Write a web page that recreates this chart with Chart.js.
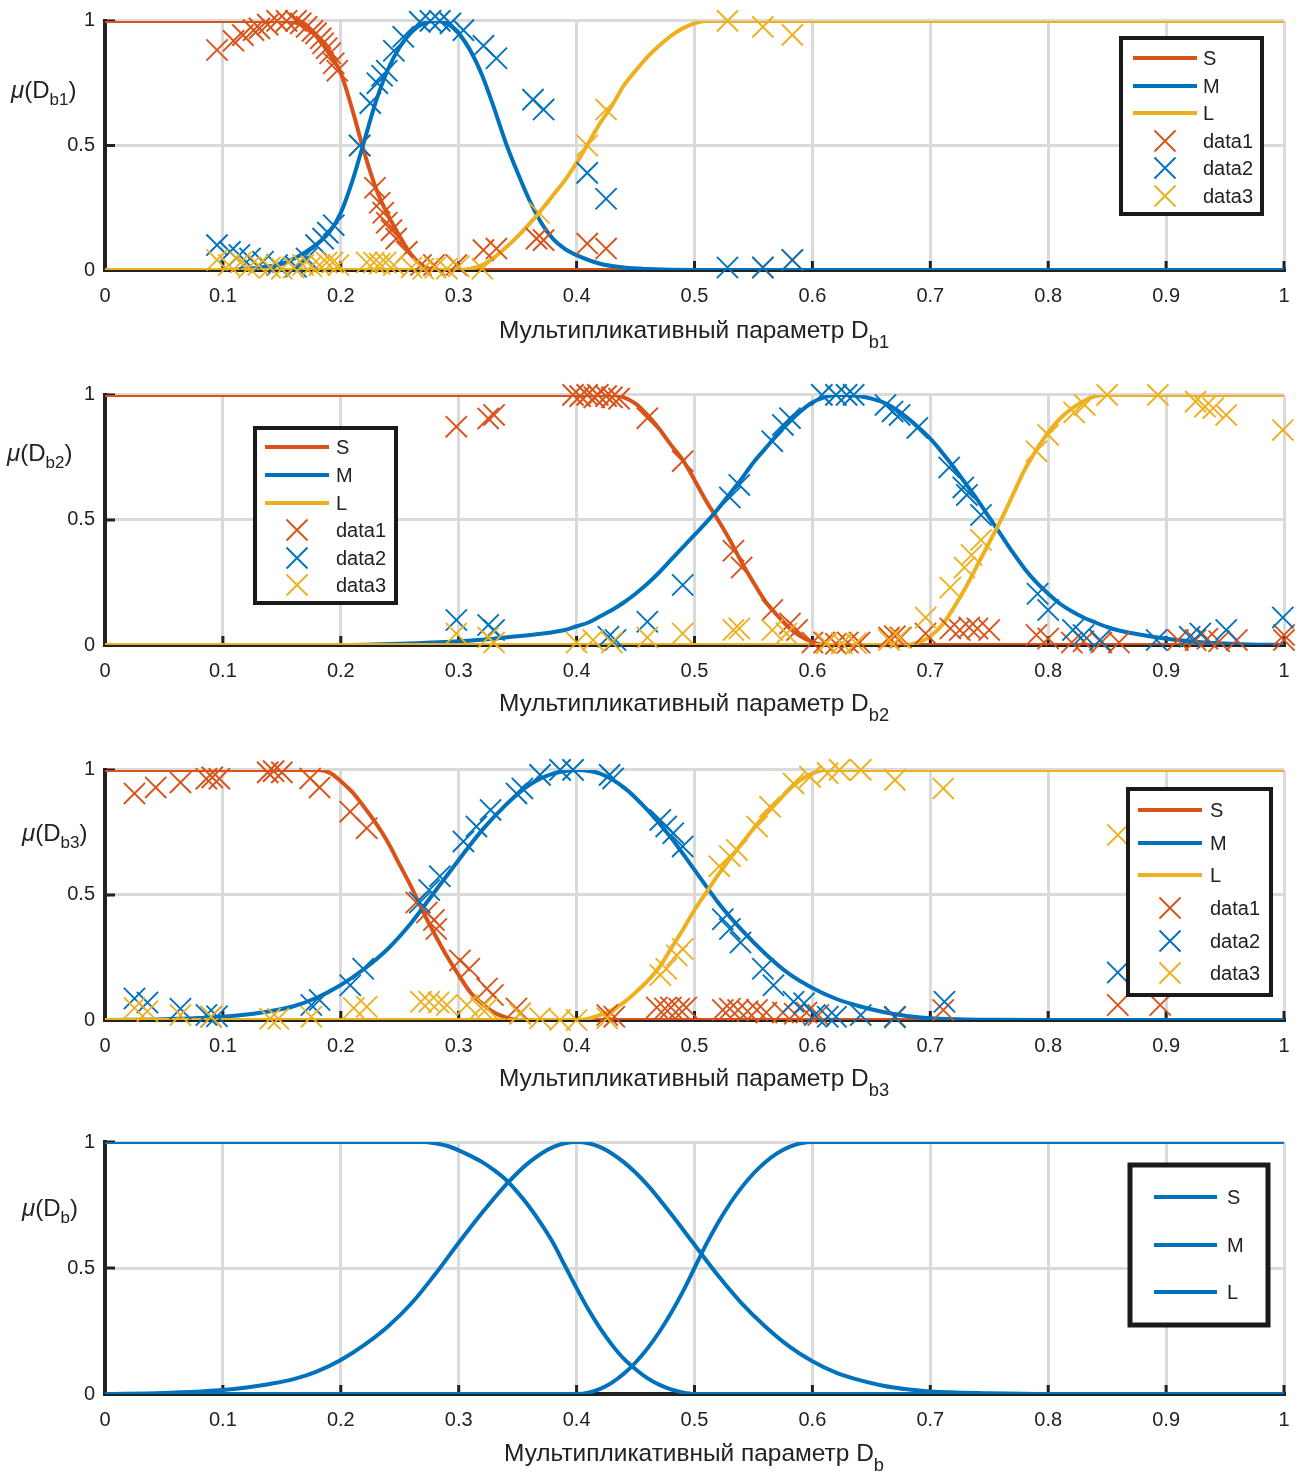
<!DOCTYPE html>
<html>
<head>
<meta charset="utf-8">
<script src="https://cdn.jsdelivr.net/npm/chart.js@4.4.1/dist/chart.umd.min.js"></script>
<style>
  body { margin: 0; background: #fff; width: 1306px; height: 1475px; position: relative; overflow: hidden; }
  canvas { position: absolute; left: 0; }
</style>
</head>
<body>
<canvas id="c1"></canvas>
<canvas id="c2"></canvas>
<canvas id="c3"></canvas>
<canvas id="c4"></canvas>
<script>
// tick labels and series names
const xTickLabels = ['0', '0.1', '0.2', '0.3', '0.4', '0.5', '0.6', '0.7', '0.8', '0.9', '1'];
const yTickLabels = ['0', '0.5', '1'];
const seriesNames = ['S', 'M', 'L', 'data1', 'data2', 'data3'];

// ---- D_b1 ----
const b1_S_x = [0, 0.15, 0.16, 0.17, 0.18, 0.19, 0.20, 0.21, 0.22, 0.23, 0.24, 0.25, 0.26, 0.27, 0.28, 1];
const b1_S_y = [1, 1, 0.995, 0.975, 0.935, 0.87, 0.79, 0.64, 0.47, 0.325, 0.22, 0.135, 0.06, 0.015, 0, 0];
const b1_M_x = [0, 0.10, 0.12, 0.14, 0.15, 0.16, 0.17, 0.18, 0.19, 0.20, 0.21, 0.22, 0.23, 0.24, 0.25, 0.26, 0.27, 0.28, 0.29, 0.30,
                0.31, 0.32, 0.33, 0.34, 0.35, 0.36, 0.37, 0.38, 0.39, 0.40, 0.42, 0.44, 0.46, 0.50, 1];
const b1_M_y = [0, 0, 0.004, 0.015, 0.025, 0.045, 0.072, 0.105, 0.15, 0.23, 0.36, 0.52, 0.68, 0.805, 0.895, 0.955, 0.99, 1, 0.99, 0.95,
                0.88, 0.78, 0.65, 0.51, 0.39, 0.28, 0.19, 0.125, 0.085, 0.06, 0.025, 0.01, 0.004, 0, 0];
const b1_L_x = [0, 0.30, 0.31, 0.32, 0.33, 0.34, 0.35, 0.36, 0.37, 0.38, 0.39, 0.40, 0.41, 0.42, 0.43, 0.44, 0.45, 0.46, 0.47, 0.48,
                0.49, 0.50, 0.51, 1];
const b1_L_y = [0, 0, 0.005, 0.02, 0.05, 0.09, 0.135, 0.185, 0.24, 0.30, 0.36, 0.43, 0.51, 0.59, 0.66, 0.74, 0.80, 0.855, 0.90, 0.94,
                0.97, 0.99, 1, 1];
const b1_d1_x = [0.095, 0.109, 0.117, 0.126, 0.131, 0.138, 0.146, 0.154, 0.162, 0.166, 0.171, 0.176, 0.179, 0.183, 0.185, 0.188, 0.191, 0.194, 0.197, 0.216,
                 0.229, 0.233, 0.236, 0.239, 0.243, 0.247, 0.256, 0.268, 0.279, 0.298, 0.321, 0.332, 0.366, 0.372, 0.409, 0.425, 0.558, 0.583];
const b1_d1_y = [0.883, 0.92, 0.943, 0.963, 0.97, 0.985, 1, 1, 1, 0.99, 0.976, 0.96, 0.95, 0.93, 0.91, 0.89, 0.87, 0.83, 0.80, 0.5,
                 0.33, 0.27, 0.23, 0.19, 0.16, 0.126, 0.073, 0.02, 0.02, 0.02, 0.08, 0.086, 0.126, 0.12, 0.106, 0.086, 0.01, 0.04];
const b1_d2_x = [0.095, 0.106, 0.114, 0.123, 0.134, 0.146, 0.162, 0.171, 0.179, 0.185, 0.189, 0.194, 0.216, 0.225, 0.231, 0.235, 0.239, 0.245, 0.253, 0.267,
                 0.276, 0.284, 0.293, 0.304, 0.321, 0.332, 0.363, 0.372, 0.409, 0.425, 0.528, 0.558, 0.583];
const b1_d2_y = [0.10, 0.073, 0.06, 0.046, 0.033, 0.02, 0.013, 0.046, 0.10, 0.126, 0.15, 0.18, 0.5, 0.67, 0.75, 0.78, 0.80, 0.88, 0.936, 0.996,
                 1, 1, 0.99, 0.963, 0.90, 0.85, 0.684, 0.644, 0.39, 0.286, 0.01, 0.01, 0.04];
const b1_d3_x = [0.095, 0.105, 0.115, 0.122, 0.13, 0.14, 0.15, 0.16, 0.168, 0.175, 0.182, 0.188, 0.193, 0.198, 0.222, 0.228, 0.233, 0.238, 0.245, 0.26,
                 0.27, 0.28, 0.29, 0.3, 0.32, 0.368, 0.409, 0.425, 0.528, 0.558, 0.583];
const b1_d3_y = [0.04, 0.02, 0.03, 0.01, 0.02, 0.01, 0.005, 0.01, 0.02, 0.015, 0.02, 0.03, 0.03, 0.02, 0.03, 0.03, 0.025, 0.03, 0.02, 0.01,
                 0.005, 0.01, 0.005, 0.015, 0.005, 0.23, 0.5, 0.644, 1, 0.976, 0.944];

// ---- D_b2 ----
const b2_S_x = [0, 0.43, 0.44, 0.45, 0.46, 0.47, 0.48, 0.49, 0.50, 0.51, 0.52, 0.53, 0.54, 0.55, 0.56, 0.57, 0.58, 0.59, 0.60, 0.61, 1];
const b2_S_y = [1, 1, 0.99, 0.965, 0.92, 0.865, 0.80, 0.74, 0.66, 0.575, 0.50, 0.42, 0.33, 0.25, 0.175, 0.12, 0.07, 0.035, 0.012, 0, 0];
const b2_M_x = [0, 0.20, 0.25, 0.30, 0.33, 0.35, 0.37, 0.39,
                0.40, 0.41, 0.42, 0.43, 0.44, 0.45, 0.46, 0.47, 0.48, 0.49, 0.50, 0.51, 0.52, 0.53, 0.54, 0.55, 0.56, 0.57, 0.58, 0.59,
                0.60, 0.61, 0.62, 0.63, 0.64, 0.65, 0.66, 0.67, 0.68, 0.69, 0.70, 0.71, 0.72, 0.73, 0.74, 0.75, 0.76, 0.77, 0.78, 0.79,
                0.80, 0.81, 0.82, 0.83, 0.84, 0.85, 0.86, 0.88, 0.90, 0.92, 0.94, 0.97, 1];
const b2_M_y = [0, 0, 0.005, 0.015, 0.025, 0.035, 0.045, 0.06,
                0.075, 0.09, 0.115, 0.14, 0.17, 0.205, 0.245, 0.29, 0.34, 0.39, 0.44, 0.49, 0.545, 0.605, 0.665, 0.73, 0.785, 0.84, 0.89, 0.935,
                0.97, 0.99, 1, 1, 0.995, 0.985, 0.97, 0.945, 0.91, 0.87, 0.825, 0.77, 0.71, 0.645, 0.58, 0.51, 0.44, 0.37, 0.305, 0.25,
                0.205, 0.165, 0.135, 0.11, 0.09, 0.072, 0.058, 0.04, 0.025, 0.015, 0.008, 0.002, 0];
const b2_L_x = [0, 0.68, 0.69, 0.70, 0.71, 0.72, 0.73, 0.74, 0.75, 0.76, 0.77, 0.78, 0.79, 0.80, 0.81, 0.82, 0.83, 0.84, 0.85, 1];
const b2_L_y = [0, 0, 0.01, 0.035, 0.08, 0.15, 0.23, 0.32, 0.41, 0.50, 0.60, 0.70, 0.78, 0.85, 0.905, 0.945, 0.975, 0.995, 1, 1];
const b2_d1_x = [0.298, 0.325, 0.330, 0.397, 0.403, 0.409, 0.415, 0.418, 0.425, 0.430, 0.436, 0.46, 0.49, 0.533, 0.54, 0.566, 0.581, 0.587, 0.60, 0.61,
                 0.62, 0.63, 0.64, 0.665, 0.67, 0.675, 0.696, 0.717, 0.725, 0.733, 0.74, 0.75, 0.79, 0.80, 0.82, 0.83, 0.845, 0.86, 0.91, 0.925,
                 0.935, 0.945, 0.96, 1.0, 1.0];
const b2_d1_y = [0.873, 0.906, 0.92, 1, 0.995, 1, 0.99, 1, 0.995, 0.99, 0.985, 0.907, 0.735, 0.377, 0.31, 0.14, 0.086, 0.06, 0.01, 0.01,
                 0.005, 0.01, 0.01, 0.03, 0.035, 0.03, 0.046, 0.066, 0.06, 0.07, 0.066, 0.06, 0.04, 0.026, 0.01, 0.015, 0.01, 0.01, 0.02, 0.02,
                 0.025, 0.015, 0.02, 0.04, 0.02];
const b2_d2_x = [0.298, 0.325, 0.33, 0.427, 0.433, 0.46, 0.49, 0.53, 0.538, 0.566, 0.575, 0.581, 0.608, 0.62, 0.629, 0.635, 0.662, 0.668, 0.674, 0.689,
                 0.716, 0.728, 0.731, 0.743, 0.791, 0.80, 0.821, 0.83, 0.844, 0.892, 0.92, 0.929, 0.951, 0.999];
const b2_d2_y = [0.10, 0.08, 0.06, 0.033, 0.02, 0.093, 0.24, 0.59, 0.64, 0.815, 0.88, 0.907, 1, 1, 1, 1, 0.96, 0.934, 0.92, 0.868,
                 0.71, 0.63, 0.60, 0.52, 0.205, 0.14, 0.06, 0.04, 0.02, 0.02, 0.033, 0.046, 0.06, 0.11];
const b2_d3_x = [0.298, 0.325, 0.33, 0.4, 0.414, 0.43, 0.46, 0.49, 0.533, 0.538, 0.566, 0.578, 0.612, 0.625, 0.637, 0.665, 0.674, 0.696, 0.717, 0.729,
                 0.735, 0.743, 0.79, 0.80, 0.822, 0.831, 0.85, 0.893, 0.925, 0.933, 0.94, 0.951, 0.999];
const b2_d3_y = [0.046, 0.03, 0.01, 0.01, 0.02, 0.01, 0.03, 0.046, 0.06, 0.066, 0.06, 0.046, 0.007, 0.007, 0.007, 0.02, 0.03, 0.11, 0.23, 0.31,
                 0.36, 0.42, 0.775, 0.84, 0.93, 0.96, 1, 1, 0.973, 0.953, 0.947, 0.92, 0.86];

// ---- D_b3 ----
const b3_S_x = [0, 0.18, 0.19, 0.20, 0.21, 0.22, 0.23, 0.24, 0.25, 0.26, 0.27, 0.28, 0.29, 0.30, 0.31, 0.32, 0.33, 0.34, 0.35, 1];
const b3_S_y = [1, 1, 0.99, 0.955, 0.91, 0.85, 0.785, 0.71, 0.62, 0.53, 0.43, 0.34, 0.255, 0.18, 0.11, 0.065, 0.03, 0.01, 0, 0];
const b3_M_x = [0, 0.05, 0.08, 0.10, 0.12, 0.14, 0.16, 0.18, 0.20, 0.22, 0.24, 0.26, 0.28, 0.30, 0.32, 0.34, 0.36, 0.38, 0.40, 0.42,
                0.44, 0.46, 0.48, 0.50, 0.52, 0.54, 0.56, 0.58, 0.60, 0.62, 0.64, 0.66, 0.68, 0.70, 0.75, 0.80, 1];
const b3_M_y = [0, 0.003, 0.008, 0.013, 0.022, 0.035, 0.055, 0.09, 0.14, 0.205, 0.285, 0.39, 0.515, 0.64, 0.76, 0.86, 0.94, 0.985, 1, 0.985,
                0.93, 0.84, 0.73, 0.6, 0.47, 0.36, 0.265, 0.185, 0.128, 0.085, 0.055, 0.032, 0.016, 0.007, 0.001, 0, 0];
const b3_L_x = [0, 0.40, 0.41, 0.42, 0.43, 0.44, 0.45, 0.46, 0.47, 0.48, 0.49, 0.50, 0.51, 0.52, 0.53, 0.54, 0.55, 0.56, 0.57, 0.58,
                0.59, 0.60, 0.61, 1];
const b3_L_y = [0, 0, 0.005, 0.02, 0.04, 0.07, 0.11, 0.155, 0.21, 0.285, 0.36, 0.44, 0.51, 0.58, 0.645, 0.705, 0.765, 0.82, 0.87, 0.92,
                0.96, 0.985, 1, 1];
const b3_d1_x = [0.025, 0.043, 0.064, 0.086, 0.091, 0.097, 0.138, 0.143, 0.15, 0.174, 0.182, 0.208, 0.222, 0.264, 0.273, 0.279, 0.281, 0.301, 0.309, 0.324,
                 0.329, 0.349, 0.352, 0.426, 0.432, 0.468, 0.475, 0.48, 0.487, 0.493, 0.524, 0.53, 0.537, 0.545, 0.553, 0.561, 0.575, 0.585, 0.595, 0.605,
                 0.67, 0.711, 0.859, 0.895];
const b3_d1_y = [0.906, 0.93, 0.95, 0.965, 0.97, 0.965, 0.99, 0.995, 0.99, 0.966, 0.93, 0.833, 0.767, 0.47, 0.43, 0.40, 0.364, 0.238, 0.205, 0.126,
                 0.10, 0.046, 0.026, 0.02, 0.013, 0.05, 0.046, 0.05, 0.045, 0.05, 0.04, 0.045, 0.04, 0.035, 0.04, 0.03, 0.03, 0.025, 0.03, 0.02,
                 0.01, 0.04, 0.06, 0.06];
const b3_d2_x = [0.025, 0.036, 0.064, 0.086, 0.09, 0.095, 0.175, 0.182, 0.208, 0.219, 0.267, 0.275, 0.284, 0.304, 0.315, 0.327, 0.349, 0.354, 0.369, 0.386,
                 0.397, 0.428, 0.431, 0.471, 0.476, 0.482, 0.49, 0.524, 0.53, 0.539, 0.558, 0.567, 0.584, 0.593, 0.602, 0.613, 0.62, 0.641, 0.67, 0.712,
                 0.859];
const b3_d2_y = [0.086, 0.07, 0.045, 0.02, 0.013, 0.015, 0.06, 0.08, 0.139, 0.205, 0.47, 0.52, 0.575, 0.714, 0.774, 0.84, 0.906, 0.926, 0.98, 1,
                 1, 0.98, 0.966, 0.80, 0.774, 0.747, 0.694, 0.403, 0.364, 0.31, 0.205, 0.139, 0.073, 0.067, 0.02, 0.013, 0.013, 0.02, 0.013, 0.073,
                 0.19];
const b3_d3_x = [0.025, 0.036, 0.064, 0.09, 0.14, 0.147, 0.175, 0.211, 0.222, 0.268, 0.275, 0.283, 0.29, 0.307, 0.319, 0.324, 0.352, 0.369, 0.386, 0.4,
                 0.426, 0.471, 0.476, 0.485, 0.49, 0.521, 0.53, 0.536, 0.553, 0.564, 0.584, 0.598, 0.613, 0.623, 0.641, 0.67, 0.711, 0.859];
const b3_d3_y = [0.048, 0.035, 0.02, 0.013, 0.005, 0.005, 0.013, 0.048, 0.053, 0.073, 0.073, 0.07, 0.06, 0.06, 0.048, 0.046, 0.026, 0.007, 0, 0,
                 0.007, 0.18, 0.205, 0.258, 0.284, 0.615, 0.655, 0.68, 0.774, 0.853, 0.946, 0.972, 0.987, 1, 1, 0.96, 0.926, 0.74];

// ---- D_b (resulting terms) ----
const b_S_x = [0, 0.27, 0.28, 0.29, 0.30, 0.31, 0.32, 0.33, 0.34, 0.35, 0.36, 0.37, 0.38, 0.39, 0.40, 0.41, 0.42, 0.43, 0.44, 0.45,
               0.46, 0.47, 0.48, 0.49, 0.50, 1];
const b_S_y = [1, 1, 0.995, 0.985, 0.967, 0.945, 0.92, 0.888, 0.85, 0.80, 0.742, 0.675, 0.60, 0.51, 0.42, 0.335, 0.26, 0.195, 0.14, 0.098,
               0.063, 0.037, 0.018, 0.006, 0, 0];
const b_M_x = [0, 0.05, 0.10, 0.12, 0.14, 0.16, 0.18, 0.20, 0.22, 0.24, 0.26, 0.28, 0.30, 0.32, 0.34, 0.36, 0.38, 0.40, 0.42, 0.44,
               0.46, 0.48, 0.50, 0.52, 0.54, 0.56, 0.58, 0.60, 0.62, 0.64, 0.66, 0.68, 0.70, 0.75, 0.80, 1];
const b_M_y = [0, 0.004, 0.016, 0.026, 0.04, 0.059, 0.09, 0.135, 0.195, 0.268, 0.36, 0.475, 0.60, 0.72, 0.83, 0.92, 0.98, 1, 0.98, 0.92,
               0.83, 0.715, 0.592, 0.47, 0.36, 0.268, 0.19, 0.13, 0.085, 0.055, 0.033, 0.019, 0.01, 0.003, 0, 0];
const b_L_x = [0, 0.40, 0.41, 0.42, 0.43, 0.44, 0.45, 0.46, 0.47, 0.48, 0.49, 0.50, 0.51, 0.52, 0.53, 0.54, 0.55, 0.56, 0.57, 0.58,
               0.59, 0.60, 1];
const b_L_y = [0, 0, 0.005, 0.02, 0.045, 0.08, 0.125, 0.18, 0.245, 0.32, 0.405, 0.5, 0.595, 0.68, 0.755, 0.82, 0.875, 0.92, 0.955, 0.98,
               0.995, 1, 1];

const ORANGE = '#D95319', BLUE = '#0072BD', YELLOW = '#EDB120';
const INK = '#222222', GRID = '#dadada';
const FONT = '"Liberation Sans", Arial, Helvetica, sans-serif';
const XTITLE = 'Мультипликативный параметр D';

const pts = (xs, ys) => xs.map((x, i) => ({ x: x, y: ys[i] }));

const panels = [
  { id: 'c1', top: 4, h: 374, areaH: 251, sub: 'b1',
    curves: [[b1_S_x, b1_S_y], [b1_M_x, b1_M_y], [b1_L_x, b1_L_y]], lineColors: [ORANGE, BLUE, YELLOW],
    marks: [[b1_d1_x, b1_d1_y], [b1_d2_x, b1_d2_y], [b1_d3_x, b1_d3_y]],
    ylab: { x: 11, y: 91 }, xlab: { cx: 694, y: 331 },
    legend: { x: 1121, y: 38, w: 141, h: 176, bw: 4, rows: [58, 86, 113, 141, 168, 196], l0: 1133, l1: 1197, tx: 1203 } },
  { id: 'c2', top: 378, h: 375, areaH: 252, sub: 'b2',
    curves: [[b2_S_x, b2_S_y], [b2_M_x, b2_M_y], [b2_L_x, b2_L_y]], lineColors: [ORANGE, BLUE, YELLOW],
    marks: [[b2_d1_x, b2_d1_y], [b2_d2_x, b2_d2_y], [b2_d3_x, b2_d3_y]],
    ylab: { x: 7, y: 454 }, xlab: { cx: 694, y: 704 },
    legend: { x: 255, y: 428, w: 141, h: 175, bw: 4, rows: [447, 475, 503, 530, 558, 585], l0: 265, l1: 329, tx: 336 } },
  { id: 'c3', top: 753, h: 374, areaH: 252, sub: 'b3',
    curves: [[b3_S_x, b3_S_y], [b3_M_x, b3_M_y], [b3_L_x, b3_L_y]], lineColors: [ORANGE, BLUE, YELLOW],
    marks: [[b3_d1_x, b3_d1_y], [b3_d2_x, b3_d2_y], [b3_d3_x, b3_d3_y]],
    ylab: { x: 22, y: 834 }, xlab: { cx: 694, y: 1079 },
    legend: { x: 1128, y: 789, w: 143, h: 206, bw: 4, rows: [810, 843, 875, 908, 941, 973], l0: 1138, l1: 1202, tx: 1210 } },
  { id: 'c4', top: 1127, h: 348, areaH: 252, sub: 'b',
    curves: [[b_S_x, b_S_y], [b_M_x, b_M_y], [b_L_x, b_L_y]], lineColors: [BLUE, BLUE, BLUE],
    marks: [],
    ylab: { x: 22, y: 1209 }, xlab: { cx: 694, y: 1454 },
    legend: { x: 1130, y: 1165, w: 138, h: 160, bw: 5, rows: [1197, 1245, 1292], l0: 1154, l1: 1217, tx: 1227 } }
];
const markColors = [ORANGE, BLUE, YELLOW];

function textRuns(ctx, x, y, parts, draw) {
  let cx = x;
  parts.forEach(p => {
    ctx.font = (p.it ? 'italic ' : '') + p.size + 'px ' + FONT;
    if (draw) ctx.fillText(p.t, cx, y + (p.dy || 0));
    cx += ctx.measureText(p.t).width;
  });
  return cx - x;
}

const decor = {
  id: 'decor',
  beforeDatasetsDraw(chart) {
    const { ctx, chartArea: a, scales } = chart;
    ctx.save();
    ctx.strokeStyle = INK;
    ctx.lineWidth = 3;
    ctx.beginPath();
    scales.x.ticks.forEach((t, i) => {
      if (i === 0) return;
      const px = scales.x.getPixelForTick(i);
      ctx.moveTo(px, a.bottom);
      ctx.lineTo(px, a.bottom - 9);
    });
    scales.y.ticks.forEach((t, i) => {
      if (i === 0) return;
      const py = scales.y.getPixelForTick(i);
      ctx.moveTo(a.left, py);
      ctx.lineTo(a.left + 10, py);
    });
    ctx.stroke();
    ctx.restore();
  },
  afterDraw(chart, args, o) {
    const ctx = chart.ctx;
    const top = o.top;
    ctx.save();
    ctx.fillStyle = INK;
    ctx.textBaseline = 'middle';
    ctx.textAlign = 'left';

    // y axis label  μ(D_bN)
    textRuns(ctx, o.ylab.x, o.ylab.y - top, [
      { t: 'μ', size: 24, it: true }, { t: '(D', size: 24 }, { t: o.sub, size: 17, dy: 9 }, { t: ')', size: 24 }
    ], true);

    // x axis title
    ctx.font = '22px ' + FONT;
    const mainSize = 22 * 370 / ctx.measureText(XTITLE).width;
    const parts = [{ t: XTITLE, size: mainSize }, { t: o.sub, size: mainSize * 0.75, dy: 12 }];
    const w = textRuns(ctx, 0, 0, parts, false);
    textRuns(ctx, o.xlab.cx - w / 2, o.xlab.y - top, parts, true);

    // legend box
    const lg = o.legend;
    ctx.fillStyle = '#ffffff';
    ctx.fillRect(lg.x, lg.y - top, lg.w, lg.h);
    ctx.lineWidth = lg.bw;
    ctx.strokeStyle = '#1a1a1a';
    ctx.strokeRect(lg.x, lg.y - top, lg.w, lg.h);
    chart.data.datasets.forEach((ds, i) => {
      const cy = lg.rows[i] - top;
      ctx.strokeStyle = ds.borderColor;
      ctx.beginPath();
      if (ds.showLine) {
        ctx.lineWidth = 4;
        ctx.moveTo(lg.l0, cy);
        ctx.lineTo(lg.l1, cy);
      } else {
        const cx = (lg.l0 + lg.l1) / 2;
        ctx.lineWidth = 1.9;
        ctx.moveTo(cx - 10.5, cy - 10.5); ctx.lineTo(cx + 10.5, cy + 10.5);
        ctx.moveTo(cx - 10.5, cy + 10.5); ctx.lineTo(cx + 10.5, cy - 10.5);
      }
      ctx.stroke();
      ctx.fillStyle = INK;
      ctx.font = '20px ' + FONT;
      ctx.fillText(ds.label, lg.tx, cy + 1);
    });
    ctx.restore();
  }
};

Chart.defaults.font.family = FONT;
Chart.defaults.color = INK;

panels.forEach(p => {
  const cv = document.getElementById(p.id);
  cv.width = 1306;
  cv.height = p.h;
  cv.style.top = p.top + 'px';

  const datasets = [];
  p.curves.forEach((c, i) => {
    datasets.push({
      label: seriesNames[i],
      data: pts(c[0], c[1]),
      showLine: true,
      borderColor: p.lineColors[i],
      backgroundColor: p.lineColors[i],
      borderWidth: 4,
      pointRadius: 0,
      cubicInterpolationMode: 'monotone',
      order: 5 - i
    });
  });
  p.marks.forEach((m, i) => {
    datasets.push({
      label: seriesNames[3 + i],
      data: pts(m[0], m[1]),
      showLine: false,
      pointStyle: 'crossRot',
      pointRadius: 15,
      pointBorderWidth: 1.9,
      borderColor: markColors[i],
      backgroundColor: markColors[i],
      clip: false,
      order: 2 - i
    });
  });

  new Chart(cv, {
    type: 'scatter',
    data: { datasets: datasets },
    options: {
      responsive: false,
      animation: false,
      events: [],
      layout: { padding: { top: 15, right: 22, left: 0, bottom: 0 } },
      plugins: {
        legend: { display: false },
        tooltip: { enabled: false },
        decor: { top: p.top, sub: p.sub, ylab: p.ylab, xlab: p.xlab, legend: p.legend }
      },
      scales: {
        x: {
          type: 'linear', min: 0, max: 1,
          afterFit: s => { s.height = p.h - 15 - p.areaH; s.paddingLeft = 0; s.paddingRight = 0; },
          border: { color: INK, width: 4 },
          grid: { color: GRID, lineWidth: 3, drawTicks: false },
          ticks: { stepSize: 0.1, padding: 14, autoSkip: false, maxRotation: 0, color: INK, font: { size: 20 },
                   callback: (v, i) => xTickLabels[i] }
        },
        y: {
          type: 'linear', min: 0, max: 1,
          afterFit: s => { s.width = 105; s.paddingTop = 0; s.paddingBottom = 0; },
          border: { color: INK, width: 4 },
          grid: { color: GRID, lineWidth: 3, drawTicks: false },
          ticks: { stepSize: 0.5, padding: 10, color: INK, font: { size: 20 },
                   callback: (v, i) => yTickLabels[i] }
        }
      }
    },
    plugins: [decor]
  });
});
</script>
</body>
</html>
